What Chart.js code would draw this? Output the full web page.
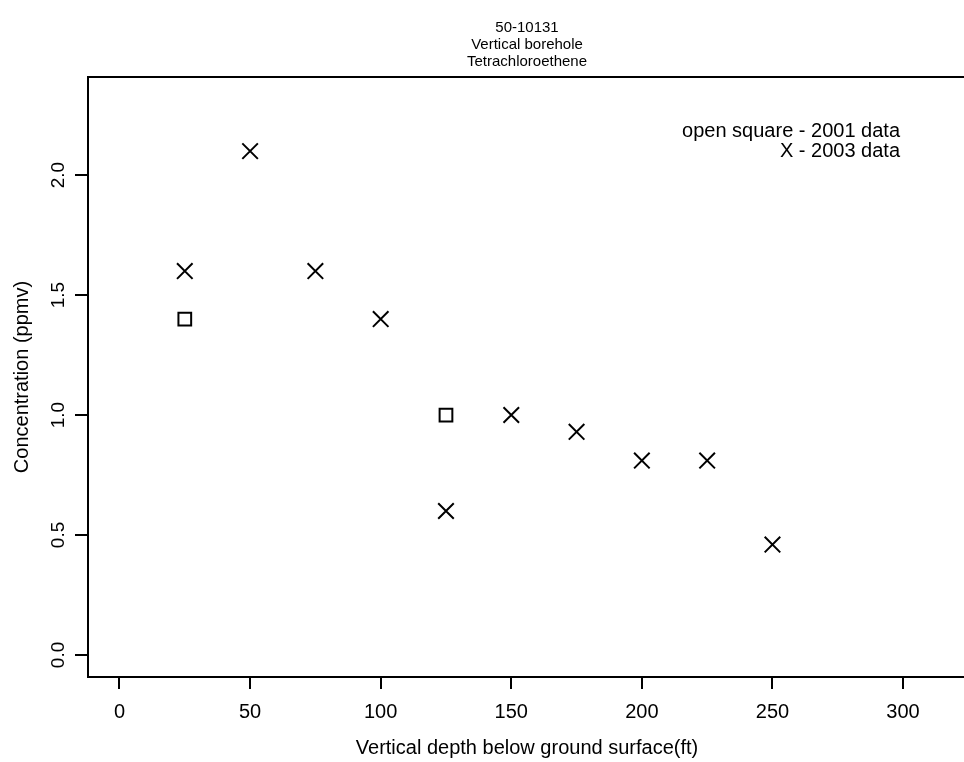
<!DOCTYPE html>
<html>
<head>
<meta charset="utf-8">
<title>50-10131 Tetrachloroethene</title>
<script src="https://cdn.jsdelivr.net/npm/chart.js@4.4.1/dist/chart.umd.min.js"></script>
<style>
  html, body { margin: 0; padding: 0; background: #ffffff; overflow: hidden; }
  #wrap { width: 980px; height: 762px; }
</style>
</head>
<body>
<div id="wrap"><canvas id="chart" width="980" height="762"></canvas></div>
<script>
// Vertical borehole 50-10131, tetrachloroethene soil-gas concentrations
const titleLines = ['50-10131', 'Vertical borehole', 'Tetrachloroethene'];
const noteLines = ['open square - 2001 data', 'X - 2003 data'];

// 2001 sampling (open squares)
const depth2001 = [25, 125];
const conc2001 = [1.4, 1.0];

// 2003 sampling (X marks)
const depth2003 = [25, 50, 75, 100, 125, 150, 175, 200, 225, 250];
const conc2003 = [1.6, 2.1, 1.6, 1.4, 0.6, 1.0, 0.93, 0.81, 0.81, 0.46];

// axis ticks
const xTickValues = [0, 50, 100, 150, 200, 250, 300];
const yTickValues = [0.0, 0.5, 1.0, 1.5, 2.0];

const xTitle = 'Vertical depth below ground surface(ft)';
const yTitle = 'Concentration (ppmv)';

const FONT = '"Liberation Sans", Arial, Helvetica, sans-serif';

function toPoints(xs, ys) {
  return xs.map((x, i) => ({ x: x, y: ys[i] }));
}

// frame, rotated y tick labels, title block and the data note
const decorations = {
  id: 'decorations',
  afterDraw(chart) {
    const { ctx, chartArea } = chart;
    const yScale = chart.scales.y;
    ctx.save();
    ctx.strokeStyle = '#000';
    ctx.lineWidth = 2;
    ctx.strokeRect(chartArea.left, chartArea.top, chartArea.right - chartArea.left, chartArea.bottom - chartArea.top);

    ctx.fillStyle = '#000';
    ctx.font = '19px ' + FONT;
    ctx.textAlign = 'center';
    ctx.textBaseline = 'middle';
    yScale.ticks.forEach(t => {
      const py = yScale.getPixelForValue(t.value);
      ctx.save();
      ctx.translate(59, py);
      ctx.rotate(-Math.PI / 2);
      ctx.fillText(t.value.toFixed(1), 0, 0);
      ctx.restore();
    });

    const cx = (chartArea.left + chartArea.right) / 2;
    ctx.font = '15px ' + FONT;
    titleLines.forEach((s, i) => ctx.fillText(s, cx, 28 + i * 17));

    ctx.font = '20px ' + FONT;
    ctx.textAlign = 'right';
    noteLines.forEach((s, i) => ctx.fillText(s, 900, 131 + i * 20));
    ctx.restore();
  }
};

new Chart(document.getElementById('chart'), {
  type: 'scatter',
  data: {
    datasets: [
      {
        label: '2001',
        data: toPoints(depth2001, conc2001),
        pointStyle: 'rect',
        radius: 9,
        hoverRadius: 9,
        borderColor: '#000',
        backgroundColor: 'rgba(0,0,0,0)',
        borderWidth: 2
      },
      {
        label: '2003',
        data: toPoints(depth2003, conc2003),
        pointStyle: 'crossRot',
        radius: 11,
        hoverRadius: 11,
        borderColor: '#000',
        backgroundColor: '#000',
        borderWidth: 2
      }
    ]
  },
  options: {
    responsive: false,
    animation: false,
    devicePixelRatio: 1,
    layout: { padding: { left: 0, right: 14, top: 77, bottom: 0 } },
    plugins: {
      legend: { display: false },
      title: { display: false },
      tooltip: { enabled: false }
    },
    scales: {
      x: {
        type: 'linear',
        min: -12.06,
        max: 324.1,
        afterBuildTicks: s => { s.ticks = xTickValues.map(v => ({ value: v })); },
        afterFit: s => { s.height = 85; },
        border: { display: false },
        grid: { drawOnChartArea: false, drawTicks: true, tickLength: 12, color: '#000', lineWidth: 2 },
        ticks: { color: '#000', font: { family: FONT, size: 20 }, padding: 11, maxRotation: 0 },
        title: { display: true, text: xTitle, color: '#000', font: { family: FONT, size: 20 }, padding: { top: 0, bottom: 2 } }
      },
      y: {
        type: 'linear',
        min: -0.092,
        max: 2.409,
        afterBuildTicks: s => { s.ticks = yTickValues.map(v => ({ value: v })); },
        afterFit: s => { s.width = 88; },
        border: { display: false },
        grid: { drawOnChartArea: false, drawTicks: true, tickLength: 13, color: '#000', lineWidth: 2 },
        ticks: { display: false },
        title: { display: true, text: yTitle, color: '#000', font: { family: FONT, size: 20 }, padding: { top: 10, bottom: 0 } }
      }
    }
  },
  plugins: [decorations]
});
</script>
</body>
</html>
